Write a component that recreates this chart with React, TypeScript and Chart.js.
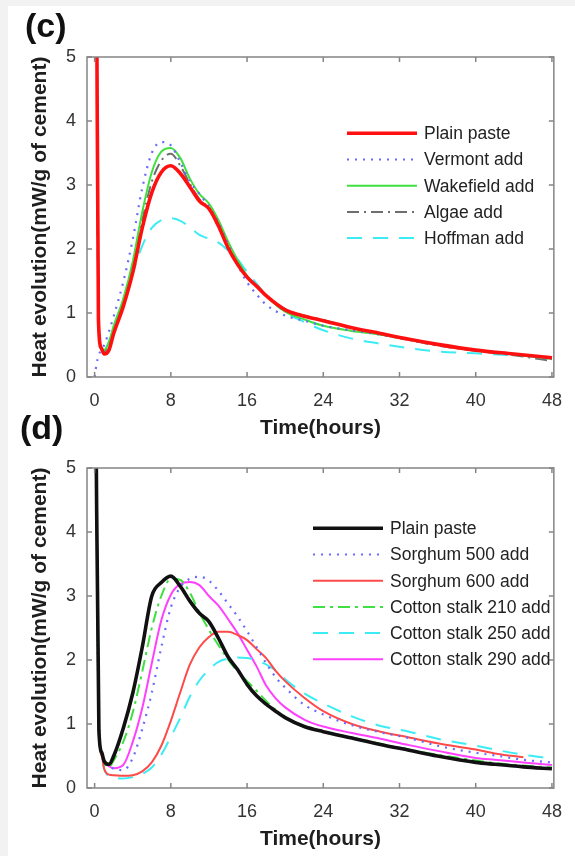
import React, { useEffect, useRef } from "react";
import { Chart, registerables } from "chart.js";

Chart.register(...registerables);

const FONT = '"Liberation Sans", Arial, Helvetica, sans-serif';

const X_TICKS = [0, 8, 16, 24, 32, 40, 48];
const Y_TICKS = [0, 1, 2, 3, 4, 5];

// ---- Panel (c) ----
const TIME_C = [0, 0.2, 0.4, 0.7, 1, 1.5, 2, 3, 4, 5, 6, 7, 8, 9, 10, 11, 12, 13, 14, 15, 16, 17, 18, 20, 22, 24, 27, 30, 33, 36, 40, 44, 48];
const PLAIN_C = [null, 6.5, 0.9, 0.45, 0.36, 0.42, 0.68, 1.1, 1.63, 2.33, 2.88, 3.2, 3.3, 3.18, 2.97, 2.75, 2.63, 2.36, 2.02, 1.76, 1.56, 1.42, 1.27, 1.05, 0.95, 0.88, 0.77, 0.68, 0.59, 0.51, 0.42, 0.36, 0.3];
const VERMONT_C = [0, 0.2, 0.33, 0.43, 0.5, 0.71, 0.95, 1.48, 2.15, 2.95, 3.5, 3.67, 3.62, 3.35, 3.05, 2.86, 2.66, 2.41, 2.08, 1.76, 1.48, 1.29, 1.13, 0.96, 0.88, 0.8, 0.73, 0.66, 0.58, 0.5, 0.42, 0.35, 0.28];
const WAKEFIELD_C = [null, 6.5, 0.9, 0.46, 0.42, 0.55, 0.8, 1.22, 1.8, 2.58, 3.2, 3.52, 3.58, 3.42, 3.1, 2.86, 2.71, 2.45, 2.12, 1.83, 1.58, 1.42, 1.27, 1.02, 0.9, 0.8, 0.72, 0.66, 0.58, 0.5, 0.42, 0.35, 0.28];
const ALGAE_C = [null, 6.5, 0.9, 0.46, 0.4, 0.52, 0.75, 1.18, 1.72, 2.45, 3.05, 3.38, 3.49, 3.3, 3.02, 2.78, 2.64, 2.38, 2.04, 1.77, 1.56, 1.41, 1.27, 1.06, 0.96, 0.89, 0.77, 0.67, 0.58, 0.49, 0.41, 0.34, 0.25];
const HOFFMAN_C = [null, 6.5, 0.9, 0.46, 0.42, 0.55, 0.78, 1.2, 1.62, 2.05, 2.33, 2.45, 2.48, 2.44, 2.34, 2.22, 2.16, 2.1, 1.98, 1.84, 1.64, 1.46, 1.28, 1.01, 0.86, 0.73, 0.6, 0.52, 0.45, 0.4, 0.37, 0.34, 0.31];

// ---- Panel (d) ----
const TIME_D = [0.1, 0.45, 0.75, 1, 1.5, 2, 3, 4, 5, 6, 7, 8, 9, 10, 11, 12, 13, 14, 15, 16, 17, 18, 19, 20, 22, 24, 27, 30, 33, 36, 40, 42, 45, 48];
const PLAIN_D = [6.5, 0.9, 0.55, 0.42, 0.37, 0.5, 0.93, 1.48, 2.2, 3.0, 3.21, 3.31, 3.15, 2.92, 2.73, 2.6, 2.34, 2.05, 1.85, 1.62, 1.44, 1.31, 1.2, 1.1, 0.96, 0.88, 0.78, 0.68, 0.59, 0.5, 0.4, 0.37, 0.33, 0.3];
const SORGHUM500_D = [6.5, 0.9, 0.55, 0.42, 0.35, 0.3, 0.28, 0.47, 0.92, 1.49, 2.2, 2.82, 3.14, 3.27, 3.3, 3.24, 3.08, 2.88, 2.68, 2.45, 2.2, 1.95, 1.73, 1.57, 1.3, 1.15, 0.98, 0.87, 0.78, 0.66, 0.55, 0.51, 0.44, 0.4];
const SORGHUM600_D = [6.5, 0.9, 0.5, 0.3, 0.21, 0.2, 0.19, 0.2, 0.26, 0.4, 0.66, 1.05, 1.5, 1.93, 2.2, 2.36, 2.44, 2.44, 2.39, 2.31, 2.17, 2.03, 1.83, 1.67, 1.41, 1.2, 1.0, 0.88, 0.79, 0.7, 0.6, 0.54, 0.48, null];
const COTTON210_D = [6.5, 0.9, 0.55, 0.4, 0.33, 0.43, 0.72, 1.18, 1.82, 2.5, 3.0, 3.27, 3.25, 3.05, 2.74, 2.47, 2.23, 2.01, 1.82, 1.67, 1.52, 1.36, 1.22, 1.1, 0.96, 0.88, 0.79, 0.69, 0.6, 0.52, 0.43, 0.39, 0.35, 0.32];
const COTTON250_D = [6.5, 0.9, 0.5, 0.3, 0.18, 0.16, 0.15, 0.17, 0.22, 0.32, 0.52, 0.8, 1.1, 1.43, 1.68, 1.85, 1.97, 2.02, 2.04, 2.03, 2.0, 1.93, 1.84, 1.7, 1.48, 1.32, 1.12, 0.97, 0.88, 0.77, 0.66, 0.6, 0.52, 0.46];
const COTTON290_D = [6.5, 0.9, 0.55, 0.42, 0.34, 0.31, 0.36, 0.72, 1.25, 1.95, 2.62, 3.02, 3.19, 3.22, 3.17, 3.0, 2.85, 2.64, 2.42, 2.16, 1.9, 1.6, 1.4, 1.26, 1.07, 0.96, 0.86, 0.77, 0.67, 0.58, 0.47, 0.44, 0.4, 0.36];

const AXIS_COLOR = "#858585";
const TICK_TEXT = "#333333";
const TITLE_TEXT = "#1e1e1e";

type SeriesDef = { label: string; values: (number | null)[]; color: string; width: number; dash: number[] };

const SERIES_C: SeriesDef[] = [
  { label: "Plain paste", values: PLAIN_C, color: "#ff1010", width: 3.6, dash: [] },
  { label: "Vermont add", values: VERMONT_C, color: "#6a6aff", width: 2.2, dash: [2, 6] },
  { label: "Wakefield add", values: WAKEFIELD_C, color: "#3fe03f", width: 2, dash: [] },
  { label: "Algae add", values: ALGAE_C, color: "#6e6e6e", width: 2, dash: [12, 5, 2, 5] },
  { label: "Hoffman add", values: HOFFMAN_C, color: "#3cecf4", width: 2, dash: [15, 11] },
];

const SERIES_D: SeriesDef[] = [
  { label: "Plain paste", values: PLAIN_D, color: "#111111", width: 3.6, dash: [] },
  { label: "Sorghum 500 add", values: SORGHUM500_D, color: "#6a6aff", width: 2.2, dash: [2, 6] },
  { label: "Sorghum 600 add", values: SORGHUM600_D, color: "#ff4a4a", width: 2, dash: [] },
  { label: "Cotton stalk 210 add", values: COTTON210_D, color: "#3fe03f", width: 2, dash: [12, 5, 3, 5] },
  { label: "Cotton stalk 250 add", values: COTTON250_D, color: "#3cecf4", width: 2, dash: [15, 11] },
  { label: "Cotton stalk 290 add", values: COTTON290_D, color: "#ff40ff", width: 2, dash: [] },
];

function framePlugin(legendDX: number, legendDY: number) {
  return {
    id: "matlabFrame",
    afterDatasetsDraw(chart: any) {
      const { ctx, chartArea: a, scales } = chart;
      ctx.save();
      ctx.strokeStyle = AXIS_COLOR;
      ctx.lineWidth = 1.5;
      ctx.setLineDash([]);
      ctx.strokeRect(a.left, a.top, a.right - a.left, a.bottom - a.top);
      ctx.beginPath();
      for (const v of X_TICKS) {
        const x = scales.x.getPixelForValue(v);
        ctx.moveTo(x, a.bottom);
        ctx.lineTo(x, a.bottom - 5);
        ctx.moveTo(x, a.top);
        ctx.lineTo(x, a.top + 5);
      }
      for (const v of Y_TICKS) {
        const y = scales.y.getPixelForValue(v);
        ctx.moveTo(a.left, y);
        ctx.lineTo(a.left + 5, y);
        ctx.moveTo(a.right, y);
        ctx.lineTo(a.right - 5, y);
      }
      ctx.stroke();

      const x0 = a.left + legendDX;
      const y0 = a.top + legendDY;
      chart.data.datasets.forEach((ds: any, i: number) => {
        const y = y0 + i * 26.2;
        ctx.strokeStyle = ds.borderColor;
        ctx.lineWidth = ds.borderWidth;
        ctx.setLineDash(ds.borderDash || []);
        ctx.beginPath();
        ctx.moveTo(x0, y);
        ctx.lineTo(x0 + 70, y);
        ctx.stroke();
        ctx.setLineDash([]);
        ctx.fillStyle = "#222222";
        ctx.font = `17.5px ${FONT}`;
        ctx.textBaseline = "middle";
        ctx.textAlign = "left";
        ctx.fillText(ds.label, x0 + 77, y + 1);
      });
      ctx.restore();
    },
  };
}

function buildChart(canvas: HTMLCanvasElement, time: number[], series: SeriesDef[], legendDX: number, legendDY: number) {
  return new Chart(canvas, {
    type: "line",
    data: {
      datasets: series.map((s) => ({
        label: s.label,
        data: time.map((t, i) => ({ x: t, y: s.values[i] })),
        borderColor: s.color,
        backgroundColor: s.color,
        borderWidth: s.width,
        borderDash: s.dash,
        pointRadius: 0,
        fill: false,
        spanGaps: false,
        cubicInterpolationMode: "monotone" as const,
      })),
    },
    options: {
      responsive: false,
      animation: false,
      events: [],
      layout: { padding: { top: 57, right: 12, left: 0, bottom: 4 } },
      plugins: { legend: { display: false }, tooltip: { enabled: false } },
      scales: {
        x: {
          type: "linear",
          min: -0.8,
          max: 48.2,
          afterBuildTicks: (scale: any) => {
            scale.ticks = X_TICKS.map((v) => ({ value: v }));
          },
          afterFit: (scale: any) => {
            scale.height = 64;
          },
          grid: { display: false, drawTicks: false },
          border: { display: false },
          ticks: { padding: 13, color: TICK_TEXT, font: { family: FONT, size: 18 }, maxRotation: 0, autoSkip: false },
          title: {
            display: true,
            text: "Time(hours)",
            color: TITLE_TEXT,
            font: { family: FONT, size: 21, weight: "bold" },
            padding: { top: 0, bottom: 0 },
          },
        },
        y: {
          type: "linear",
          min: 0,
          max: 5,
          afterBuildTicks: (scale: any) => {
            scale.ticks = Y_TICKS.map((v) => ({ value: v }));
          },
          afterFit: (scale: any) => {
            scale.width = 87;
          },
          grid: { display: false, drawTicks: false },
          border: { display: false },
          ticks: { padding: 11, color: TICK_TEXT, font: { family: FONT, size: 18 } },
          title: {
            display: true,
            text: "Heat evolution(mW/g of cement)",
            color: TITLE_TEXT,
            font: { family: FONT, size: 21, weight: "bold" },
            padding: { top: 28, bottom: 0 },
          },
        },
      },
    },
    plugins: [framePlugin(legendDX, legendDY)],
  } as any);
}

export default function App() {
  const refC = useRef<HTMLCanvasElement | null>(null);
  const refD = useRef<HTMLCanvasElement | null>(null);

  useEffect(() => {
    const c = buildChart(refC.current!, TIME_C, SERIES_C, 260, 76.3);
    const d = buildChart(refD.current!, TIME_D, SERIES_D, 226, 60.3);
    return () => {
      c.destroy();
      d.destroy();
    };
  }, []);

  const panelLabel: React.CSSProperties = {
    position: "absolute",
    fontFamily: FONT,
    fontWeight: "bold",
    fontSize: 34,
    lineHeight: "34px",
    color: "#111",
  };

  return (
    <div style={{ position: "fixed", left: 0, top: 0, width: 575, height: 856, background: "#f2f2f2", overflow: "hidden" }}>
      <div style={{ position: "absolute", left: 8, top: 6, width: 567, height: 850, background: "#ffffff" }} />
      <canvas ref={refC} width={575} height={445} style={{ position: "absolute", left: 0, top: 0 }} />
      <canvas ref={refD} width={575} height={445} style={{ position: "absolute", left: 0, top: 411 }} />
      <div style={{ ...panelLabel, left: 25, top: 8 }}>(c)</div>
      <div style={{ ...panelLabel, left: 20, top: 410 }}>(d)</div>
    </div>
  );
}
